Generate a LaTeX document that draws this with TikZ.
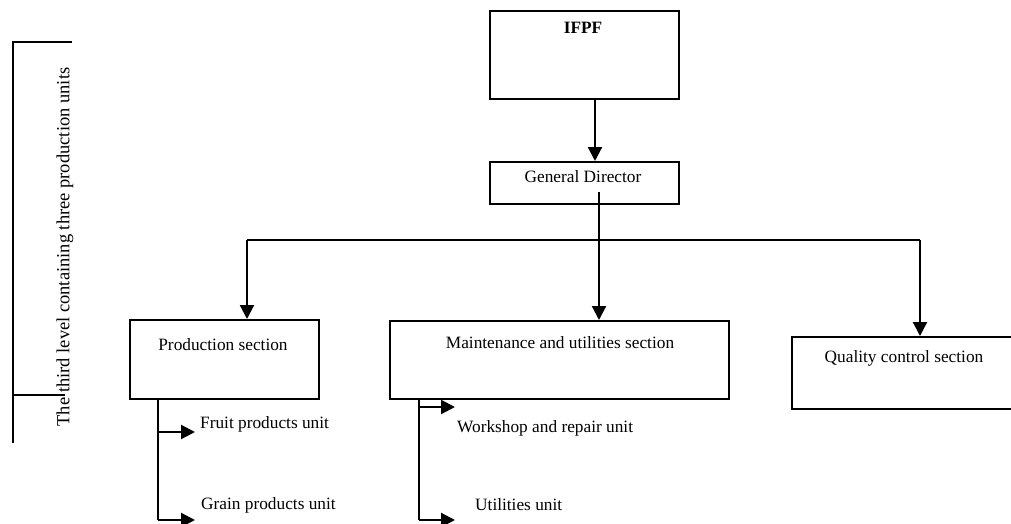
\documentclass[tikz,border=0pt]{standalone}
\usepackage{fontspec}
\setmainfont{Liberation Serif}
\usetikzlibrary{arrows.meta}
\tikzset{
  box/.style={draw, line width=1.8pt, rectangle, anchor=north west, inner sep=0pt},
  txt/.style={inner sep=0pt, font=\fontsize{17.3}{20}\selectfont},
  link/.style={line width=2.2pt},
  arr/.style={link, -{Triangle[length=14pt,width=14pt]}},
}
\begin{document}
\begin{tikzpicture}[x=1pt, y=-1pt]
\useasboundingbox (0,0) rectangle (1011,524);
\clip (0,0) rectangle (1011,524);

% boxes of the chart
\node[box, minimum width=189pt, minimum height=88pt] (ifpf) at (489,10) {};
\node[box, minimum width=189pt, minimum height=42pt] (gd) at (489,161) {};
\node[box, minimum width=189pt, minimum height=79pt] (prod) at (129,319) {};
\node[box, minimum width=339pt, minimum height=78pt] (maint) at (389,320) {};
\node[box, minimum width=240pt, minimum height=72pt] (qual) at (791,336) {};

% box captions
\node[txt, font=\fontsize{17.3}{20}\selectfont\bfseries] (ifpft) at (583,28) {IFPF};
\node[txt] (gdt) at (583,177) {General Director};
\node[txt] (prodt) at (223,345) {Production section};
\node[txt] (maintt) at (560,343) {Maintenance and utilities section};
\node[txt] (qualt) at (904,358) {Quality control section};

% unit captions
\node[txt, anchor=west] (fruit) at (200,424) {Fruit products unit};
\node[txt, anchor=west] (grain) at (201,505) {Grain products unit};
\node[txt, anchor=west] (shop) at (457,428) {Workshop and repair unit};
\node[txt, anchor=west] (util) at (475,505) {Utilities unit};

% helper coordinates for the connector columns and rows
\coordinate (xa) at (595,0);
\coordinate (xb) at (599,192);
\coordinate (bus) at (599,240);
\coordinate (busl) at (247,240);
\coordinate (busr) at (920,240);
\coordinate (pcol) at (158,520);
\coordinate (mcol) at (419,520);
\coordinate (pf) at (195,432);
\coordinate (pg) at (195,520);
\coordinate (mw) at (455,407);
\coordinate (mu) at (455,520);

% top of the chart
\draw[arr] (ifpf.south -| xa) -- (gd.north -| xa);
\draw[link] (xb) -- (bus);
\draw[link] (busl) -- (busr);
\draw[arr] (bus) -- (maint.north -| bus);
\draw[arr] (busl) -- (prod.north -| busl);
\draw[arr] (busr) -- (qual.north -| busr);

% units of the production section
\draw[link] (prod.south -| pcol) -- (pcol);
\draw[arr] (pf -| pcol) -- (pf);
\draw[arr] (pcol) -- (pg);

% units of the maintenance section
\draw[link] (maint.south -| mcol) -- (mcol);
\draw[arr] (mw -| mcol) -- (mw);
\draw[arr] (mcol) -- (mu);

% side bracket with its rotated caption
\coordinate (bt) at (13,42);
\coordinate (bm) at (13,395);
\coordinate (bb) at (13,443);
\draw[line width=1.8pt] (72,42) -- (bt) -- (bb);
\draw[line width=1.4pt] (bm) -- (65,395);
\node[txt, rotate=90, font=\fontsize{18.5}{20}\selectfont] (side) at (65,247) {The third level containing three production units};
\end{tikzpicture}
\end{document}
